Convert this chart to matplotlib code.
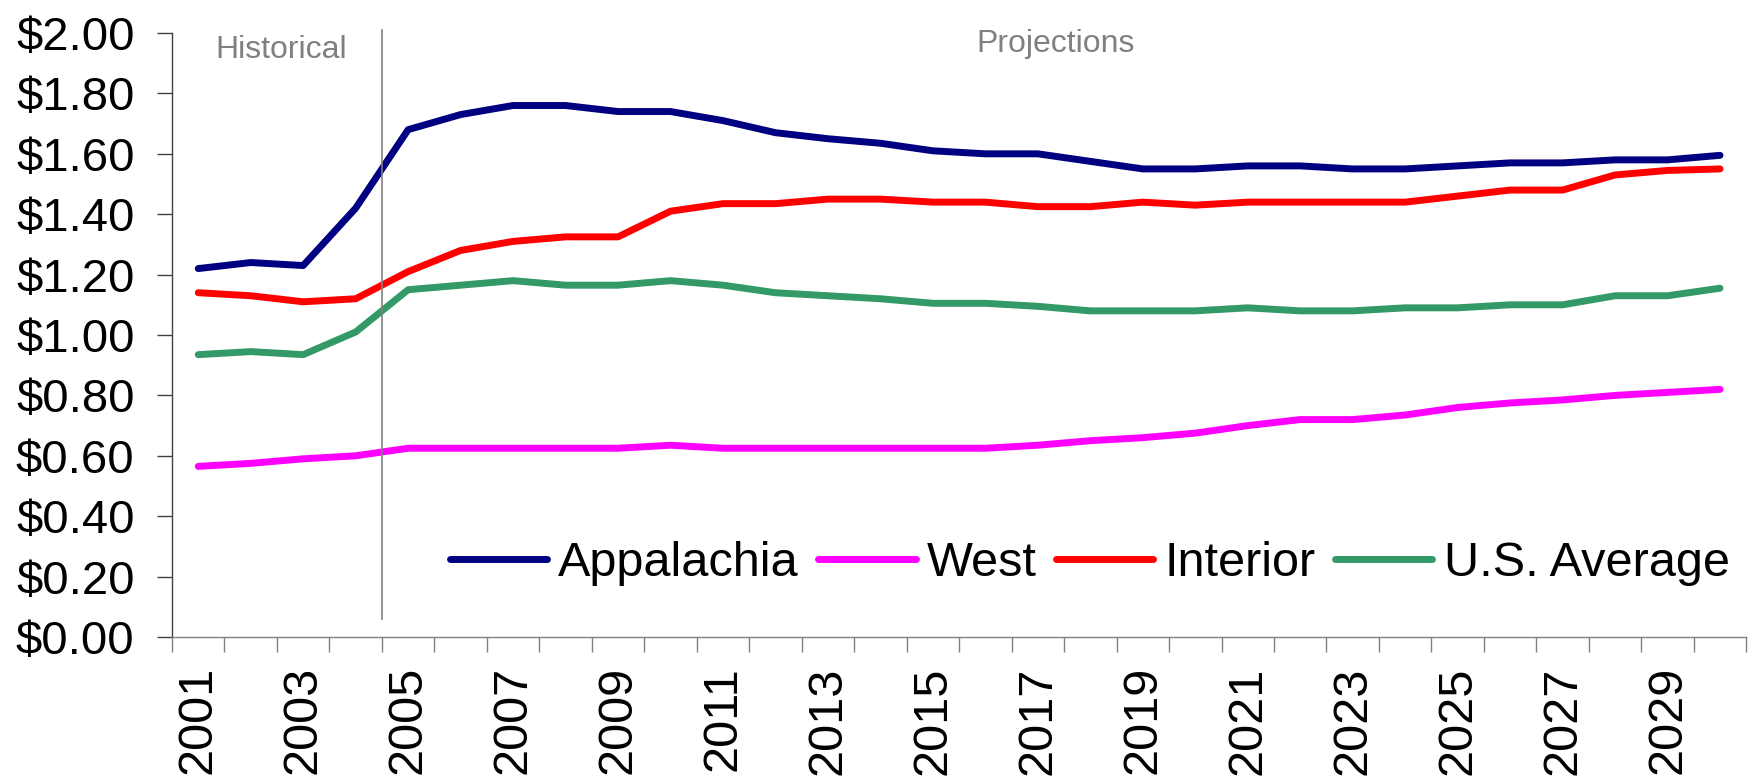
import numpy as np
import matplotlib
matplotlib.use("Agg")
import matplotlib.pyplot as plt
from matplotlib.ticker import FixedLocator, FuncFormatter

plt.rcParams['font.family'] = ['Liberation Sans', 'DejaVu Sans']

# data ($ per million Btu)
years = list(range(2001, 2031))
appalachia = [1.22, 1.24, 1.23, 1.42, 1.68, 1.73, 1.76, 1.76, 1.74, 1.74,
              1.71, 1.67, 1.65, 1.635, 1.61, 1.60, 1.60, 1.575, 1.55, 1.55,
              1.56, 1.56, 1.55, 1.55, 1.56, 1.57, 1.57, 1.58, 1.58, 1.595]
west = [0.565, 0.575, 0.59, 0.60, 0.625, 0.625, 0.625, 0.625, 0.625, 0.635,
        0.625, 0.625, 0.625, 0.625, 0.625, 0.625, 0.635, 0.65, 0.66, 0.675,
        0.70, 0.72, 0.72, 0.735, 0.76, 0.775, 0.785, 0.80, 0.81, 0.82]
interior = [1.14, 1.13, 1.11, 1.12, 1.21, 1.28, 1.31, 1.325, 1.325, 1.41,
            1.435, 1.435, 1.45, 1.45, 1.44, 1.44, 1.425, 1.425, 1.44, 1.43,
            1.44, 1.44, 1.44, 1.44, 1.46, 1.48, 1.48, 1.53, 1.545, 1.55]
us_avg = [0.935, 0.945, 0.935, 1.01, 1.15, 1.165, 1.18, 1.165, 1.165, 1.18,
          1.165, 1.14, 1.13, 1.12, 1.105, 1.105, 1.095, 1.08, 1.08, 1.08,
          1.09, 1.08, 1.08, 1.09, 1.09, 1.10, 1.10, 1.13, 1.13, 1.155]

series = [("Appalachia", appalachia, "#000080"),
          ("West", west, "#FF00FF"),
          ("Interior", interior, "#FF0000"),
          ("U.S. Average", us_avg, "#339966")]

fig = plt.figure(figsize=(17.48, 7.79), dpi=100)
ax = fig.add_axes([0.0984, 0.1823, 0.9006, 0.7753])

x = np.arange(len(years))
for name, vals, col in series:
    ax.plot(x, vals, color=col, lw=5, label=name, solid_capstyle='round')

# historical / projections divider
ax.plot([3.5, 3.5], [0.06, 2.01], color='#808080', lw=1.2, clip_on=False)
ax.text(0.32, 1.917, "Historical", color='#808080', fontsize=23, va='baseline')
ax.text(16.33, 1.937, "Projections", color='#808080', fontsize=23,
        va='baseline', ha='center')

ax.set_xlim(-0.5, len(years) - 0.5)
ax.set_ylim(0, 2.0)

# y axis
ax.set_yticks(np.arange(0, 2.01, 0.2))
ax.yaxis.set_major_formatter(FuncFormatter(lambda v, p: "${:.2f}".format(v)))
ax.tick_params(axis='y', length=11, width=1, color='#404040', pad=16,
               labelsize=34)

# x axis: ticks at category borders, labels on every other year
ax.xaxis.set_major_locator(FixedLocator(np.arange(-0.5, len(years), 1.0)))
ax.xaxis.set_major_formatter(FuncFormatter(lambda v, p: ""))
ax.xaxis.set_minor_locator(FixedLocator(x[::2]))
ax.set_xticklabels([str(y) for y in years[::2]], minor=True, rotation=90)
ax.tick_params(axis='x', which='major', length=11, width=1, color='#808080')
ax.tick_params(axis='x', which='minor', length=0, pad=21, labelsize=35)

for s in ['top', 'right']:
    ax.spines[s].set_visible(False)
ax.spines['left'].set_color('#404040')
ax.spines['bottom'].set_color('#808080')
ax.spines['left'].set_linewidth(1)
ax.spines['bottom'].set_linewidth(1)

ax.legend(loc='center left', bbox_to_anchor=(0.2574, 0.276),
          bbox_transform=fig.transFigure, ncol=4, frameon=False,
          fontsize=35, handlelength=2.0, handletextpad=0.23,
          columnspacing=0.4, borderpad=0, borderaxespad=0)

fig.savefig("out.png", dpi=100)
